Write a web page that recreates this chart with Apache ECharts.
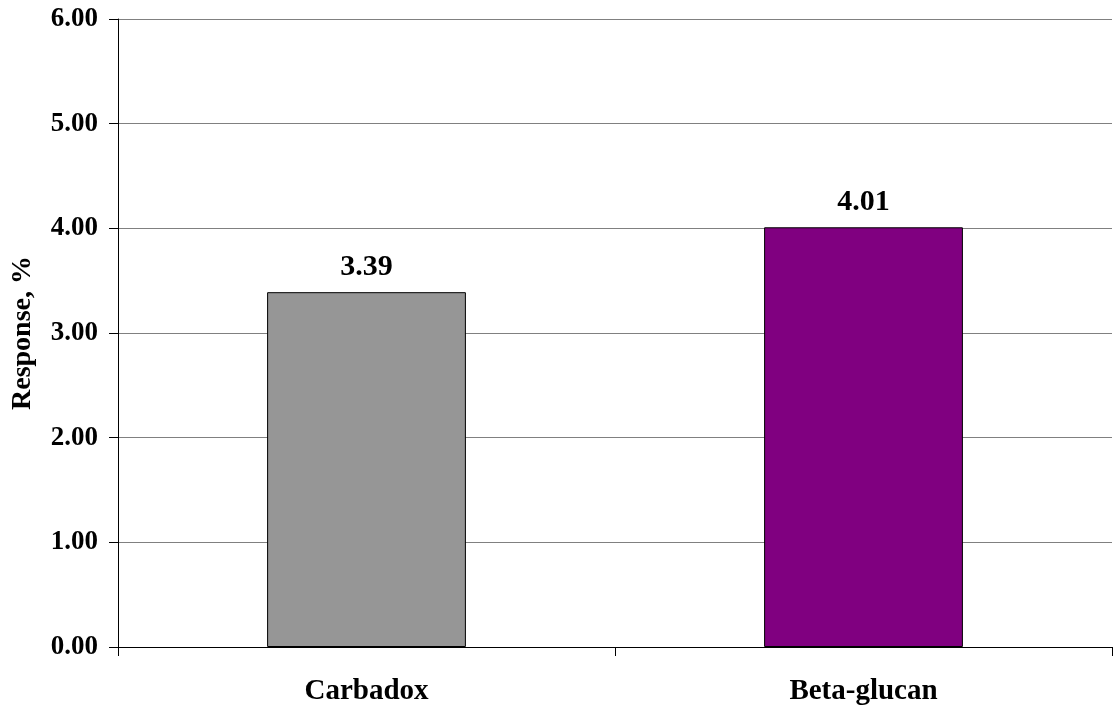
<!DOCTYPE html>
<html>
<head>
<meta charset="utf-8">
<script src="https://cdn.jsdelivr.net/npm/echarts@6/dist/echarts.min.js"></script>
<style>
html,body{margin:0;padding:0;background:#fff;}
#chart{width:1113px;height:709px;}
</style>
</head>
<body>
<div id="chart"></div>
<script>
const categories = ['Carbadox', 'Beta-glucan'];
const values = [3.39, 4.01];
const barColors = ['#969696', '#800080'];
const yTitle = 'Response, %';

const FONT = '"Liberation Serif", "Times New Roman", serif';
const chart = echarts.init(document.getElementById('chart'));
chart.setOption({
  animation: false,
  backgroundColor: '#ffffff',
  grid: { left: 118, right: 1, top: 19, bottom: 62, containLabel: false, outerBoundsMode: 'none' },
  xAxis: {
    type: 'category',
    data: categories,
    axisLine: { lineStyle: { color: '#000', width: 1 } },
    axisTick: { show: true, length: 9, lineStyle: { color: '#000' } },
    axisLabel: { color: '#000', fontFamily: FONT, fontWeight: 'bold', fontSize: 29, margin: 30 },
    splitLine: { show: false }
  },
  yAxis: {
    type: 'value',
    min: 0, max: 6, interval: 1,
    name: yTitle,
    nameLocation: 'middle',
    nameGap: 81,
    nameRotate: 90,
    nameTextStyle: { color: '#000', fontFamily: FONT, fontWeight: 'bold', fontSize: 28 },
    axisLine: { show: true, lineStyle: { color: '#000', width: 1 } },
    axisTick: { show: true, length: 9, lineStyle: { color: '#000' } },
    axisLabel: {
      color: '#000', fontFamily: FONT, fontWeight: 'bold', fontSize: 27, margin: 20,
      formatter: v => v.toFixed(2)
    },
    splitLine: { show: true, lineStyle: { color: '#808080', width: 1 } }
  },
  series: [{
    type: 'bar',
    barWidth: '40%',
    data: values.map((v, i) => ({
      value: v,
      itemStyle: { color: barColors[i], borderColor: '#000', borderWidth: 1 }
    })),
    label: {
      show: true, position: 'top', distance: 10,
      color: '#000', fontFamily: FONT, fontWeight: 'bold', fontSize: 30,
      formatter: p => p.value.toFixed(2)
    }
  }]
});
</script>
</body>
</html>
